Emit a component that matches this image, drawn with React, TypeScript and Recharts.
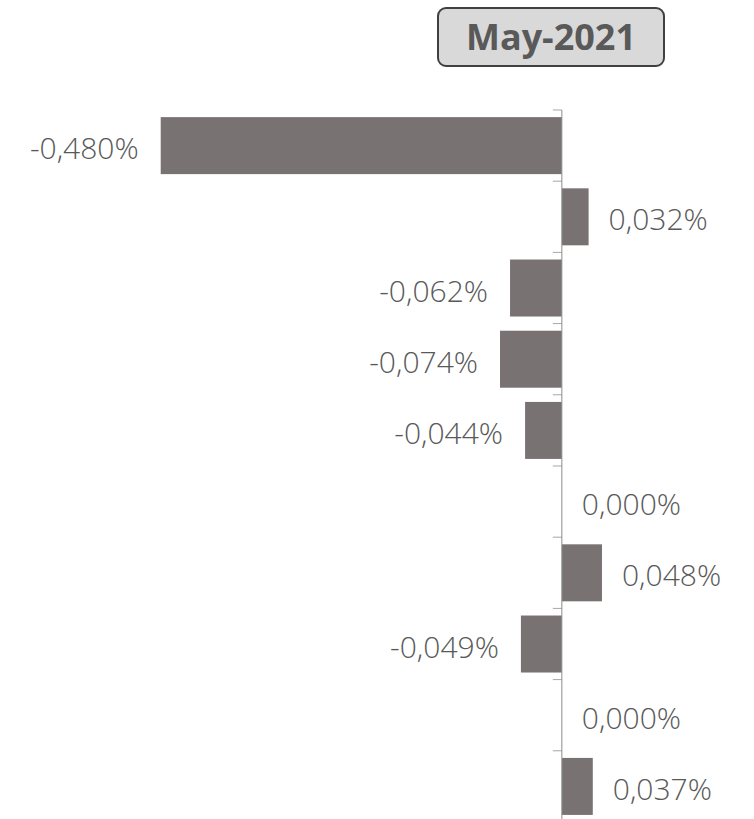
import React from "react";
import { BarChart, Bar, XAxis, YAxis, ReferenceLine, LabelList } from "recharts";

const title = "May-2021";
const categories = ["1", "2", "3", "4", "5", "6", "7", "8", "9", "10"];
const values = [-0.48, 0.032, -0.062, -0.074, -0.044, 0.0, 0.048, -0.049, 0.0, 0.037];

const data = categories.map((c, i) => ({ name: c, value: values[i] }));

const FONT = "'Open Sans', 'DejaVu Sans', sans-serif";
const GAP_RATIO = 0.1; // barCategoryGap per side
const fmt = (v: number) => v.toFixed(3).replace(".", ",") + "%";

const BarLabel = (props: any) => {
  const { x, y, width, height, value } = props;
  const left = Math.min(x, x + width);
  const right = Math.max(x, x + width);
  const cy = y + height / 2 + 2;
  const neg = value < 0;
  return (
    <text
      x={neg ? left - 22 : right + 20}
      y={cy}
      textAnchor={neg ? "end" : "start"}
      dominantBaseline="central"
      fontFamily={FONT}
      fontWeight={300}
      fontSize={30}
      fill="#595959"
    >
      {fmt(value)}
    </text>
  );
};

const BarShape = (props: any) => {
  const { x, y, width, height, fill, value, index } = props;
  const left = Math.min(x, x + width);
  const right = Math.max(x, x + width);
  const zeroX = value < 0 ? right : left;
  const band = height / (1 - 2 * GAP_RATIO);
  const gap = band * GAP_RATIO;
  const topTick = y - gap;
  const bottomTick = y + height + gap;
  return (
    <g>
      {value !== 0 && (
        <rect x={left} y={y} width={right - left} height={height} fill={fill} />
      )}
      <line x1={zeroX - 9} x2={zeroX} y1={topTick} y2={topTick} stroke="#a6a6a6" strokeWidth={1} />
      {index === categories.length - 1 && (
        <line x1={zeroX - 9} x2={zeroX} y1={bottomTick} y2={bottomTick} stroke="#a6a6a6" strokeWidth={1} />
      )}
    </g>
  );
};

export default function App() {
  return (
    <div
      style={{
        position: "absolute",
        left: 0,
        top: 0,
        width: 754,
        height: 819,
        overflow: "hidden",
        background: "#fff",
      }}
    >
      <div
        style={{
          position: "absolute",
          left: 437,
          top: 7,
          width: 228,
          height: 60,
          boxSizing: "border-box",
          border: "2.5px solid #404040",
          borderRadius: 9,
          background: "#d9d9d9",
          display: "flex",
          alignItems: "center",
          justifyContent: "center",
          fontFamily: FONT,
          fontWeight: 700,
          fontSize: 36,
          color: "#595959",
          lineHeight: 1,
          zIndex: 2,
        }}
      >
        {title}
      </div>
      <BarChart
        width={754}
        height={830}
        data={data}
        layout="vertical"
        margin={{ top: 110, right: 25, bottom: 8, left: 144 }}
        barCategoryGap={`${GAP_RATIO * 100}%`}
      >
        <XAxis type="number" domain={[-0.5, 0.2]} hide allowDataOverflow />
        <YAxis type="category" dataKey="name" hide />
        <ReferenceLine x={0} stroke="#8c8c8c" strokeWidth={1} />
        <Bar
          dataKey="value"
          fill="#787372"
          isAnimationActive={false}
          minPointSize={(v: number) => (v === 0 ? 0.01 : 0)}
          shape={BarShape}
        >
          <LabelList dataKey="value" content={BarLabel} />
        </Bar>
      </BarChart>
    </div>
  );
}
